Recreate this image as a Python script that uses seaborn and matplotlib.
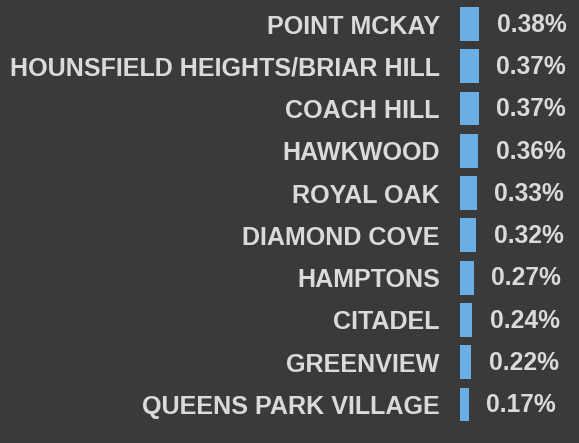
import matplotlib
matplotlib.use("Agg")
import matplotlib.pyplot as plt
import seaborn as sns
import pandas as pd

communities = ["POINT MCKAY", "HOUNSFIELD HEIGHTS/BRIAR HILL", "COACH HILL", "HAWKWOOD",
               "ROYAL OAK", "DIAMOND COVE", "HAMPTONS", "CITADEL", "GREENVIEW",
               "QUEENS PARK VILLAGE"]
shares = [0.38, 0.37, 0.37, 0.36, 0.33, 0.32, 0.27, 0.24, 0.22, 0.17]
value_labels = ["0.38%", "0.37%", "0.37%", "0.36%", "0.33%", "0.32%", "0.27%", "0.24%", "0.22%", "0.17%"]

df = pd.DataFrame({"community": communities, "share": shares})

sns.set_theme(style="white")
plt.rcParams['font.family'] = ['Liberation Sans', 'DejaVu Sans']

bg = "#3a3a3a"
txt = "#dadada"
bar_color = "#6aaee6"

fig = plt.figure(figsize=(5.79, 4.43), dpi=100, facecolor=bg)
ax = fig.add_axes([460/579, 1 - 425.6/443, 1 - 460/579, (425.6 - 2.9)/443])
ax.set_facecolor(bg)

sns.barplot(data=df, y="community", x="share", orient="h", color=bar_color,
            width=0.8, saturation=1, linewidth=0, edgecolor=bar_color, ax=ax)

for i, (v, lab) in enumerate(zip(shares, value_labels)):
    ax.annotate(lab, xy=(v, i), xytext=(12.5, -0.5), textcoords="offset points",
                ha="left", va="center", color=txt, fontsize=17.7, fontweight="bold")

ax.set_xlim(0, 119 / 50.8)
ax.set_ylim(9.5, -0.5)
ax.set_xlabel("")
ax.set_ylabel("")
ax.set_xticks([])
ax.tick_params(axis="y", length=0, pad=14.5, labelsize=18.1, labelcolor=txt)
for t in ax.get_yticklabels():
    t.set_fontweight("bold")
for s in ax.spines.values():
    s.set_visible(False)

fig.savefig("out.png", dpi=100, facecolor=bg)
